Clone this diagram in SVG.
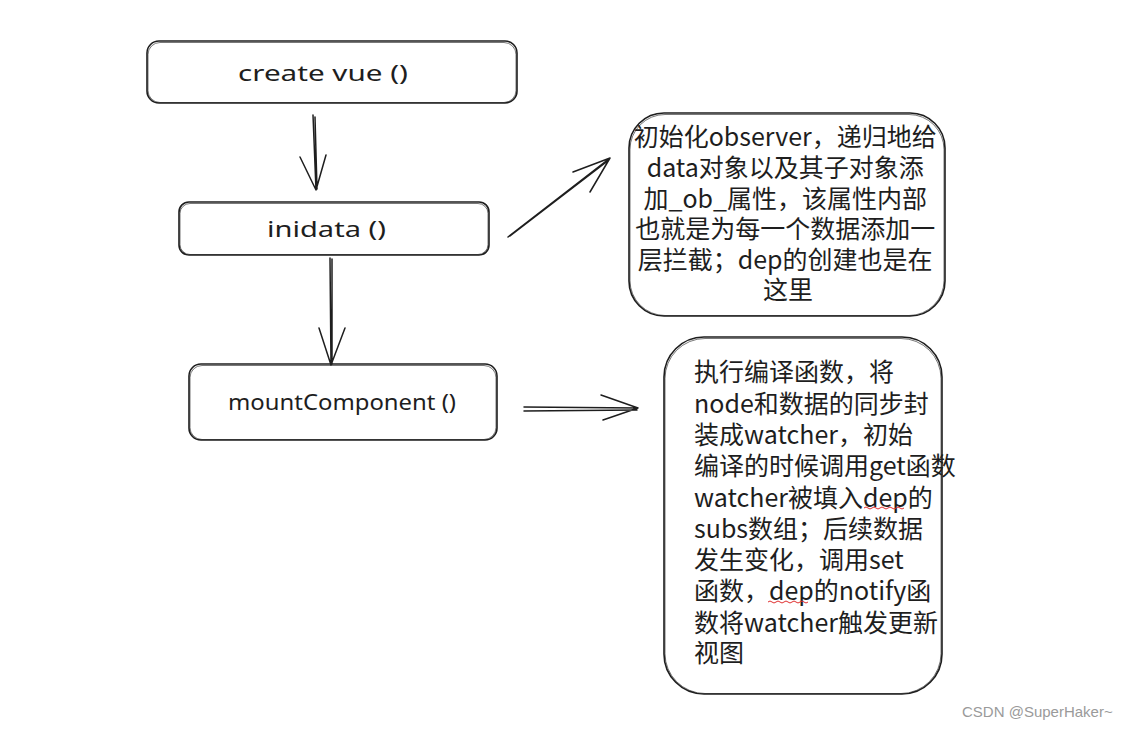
<svg xmlns="http://www.w3.org/2000/svg" width="1135" height="729" viewBox="0 0 1135 729">
<style>
.box{fill:#fff;stroke:#1e1e1e;stroke-width:1.6}
.sk{fill:none;stroke:#1e1e1e;stroke-width:1;opacity:.6}
.lbl{font-family:"Noto Sans","DejaVu Sans",sans-serif;font-size:22px;fill:#1e1e1e}
.cj{font-family:"Noto Sans CJK SC","Noto Sans",sans-serif;font-size:25px;fill:#1e1e1e}
.ln{fill:none;stroke:#1e1e1e;stroke-width:1.5;stroke-linecap:round;stroke-linejoin:round}
.sq{fill:none;stroke:#e03030;stroke-width:1}
.wm{font-family:"Liberation Sans",Arial,sans-serif;font-size:15px;fill:#9a9a9a}
</style>
<rect width="1135" height="729" fill="#fff"/>
<g id="node-create">
<rect class="box" x="147" y="41" width="370" height="62" rx="12"/>
<rect class="sk" x="148" y="42.5" width="368" height="60" rx="12"/>
<text class="lbl" x="323" y="81" text-anchor="middle" textLength="170" lengthAdjust="spacingAndGlyphs">create vue ()</text>
</g>
<g id="node-inidata">
<rect class="box" x="179" y="202" width="310" height="53" rx="10"/>
<rect class="sk" x="180" y="203.5" width="308" height="51" rx="10"/>
<text class="lbl" x="326.5" y="237" text-anchor="middle" textLength="119" lengthAdjust="spacingAndGlyphs">inidata ()</text>
</g>
<g id="node-mount">
<rect class="box" x="189" y="364" width="308" height="76" rx="12"/>
<rect class="sk" x="190" y="365.5" width="306" height="74" rx="12"/>
<text class="lbl" x="342" y="410" text-anchor="middle" textLength="228" lengthAdjust="spacingAndGlyphs">mountComponent ()</text>
</g>
<g id="node-observer">
<rect class="box" x="629" y="113" width="316" height="203" rx="35"/>
<rect class="sk" x="630" y="114.5" width="314" height="201" rx="35"/>
<text class="cj" text-anchor="middle">
<tspan x="788" y="146">初始化observer，递归地给</tspan>
<tspan x="788" y="177">data对象以及其子对象添</tspan>
<tspan x="788" y="207.5">加_ob_属性，该属性内部</tspan>
<tspan x="788" y="238">也就是为每一个数据添加一</tspan>
<tspan x="788" y="268.5">层拦截；dep的创建也是在</tspan>
<tspan x="788" y="299">这里</tspan>
</text>
</g>
<g id="node-watcher">
<rect class="box" x="664" y="337" width="278" height="357" rx="40"/>
<rect class="sk" x="665" y="338.5" width="276" height="355" rx="40"/>
<text class="cj">
<tspan x="694" y="381">执行编译函数，将</tspan>
<tspan x="694" y="413">node和数据的同步封</tspan>
<tspan x="694" y="444">装成watcher，初始</tspan>
<tspan x="694" y="475">编译的时候调用get函数</tspan>
<tspan x="694" y="507">watcher被填入dep的</tspan>
<tspan x="694" y="538">subs数组；后续数据</tspan>
<tspan x="694" y="569">发生变化，调用set</tspan>
<tspan x="694" y="600">函数，dep的notify函</tspan>
<tspan x="694" y="632">数将watcher触发更新</tspan>
<tspan x="694" y="662">视图</tspan>
</text>
<path class="sq" d="M864 508 q2 -2 4 0 t4 0 t4 0 t4 0 t4 0 t4 0 t4 0 t4 0 t4 0 t4 0"/>
<path class="sq" d="M768 602 q2 -2 4 0 t4 0 t4 0 t4 0 t4 0 t4 0 t4 0 t4 0 t4 0 t4 0"/>
</g>
<g id="connectors">
<path class="ln" d="M313 115 L316 190 M315 117 L317 189 M300 157 L316 190 L326 155"/>
<path class="ln" d="M330 258 L331 365 M332 259 L332 364 M319 328 L331 365 L345 328"/>
<path class="ln" d="M508 237 L610 158 M510 236 L609 160 M573 172 L610 158 L590 192"/>
<path class="ln" d="M524 407 L638 408 M524 411 L637 410 M601 395 L638 408 L603 420"/>
</g>
<text class="wm" x="962" y="717">CSDN @SuperHaker~</text>
</svg>
